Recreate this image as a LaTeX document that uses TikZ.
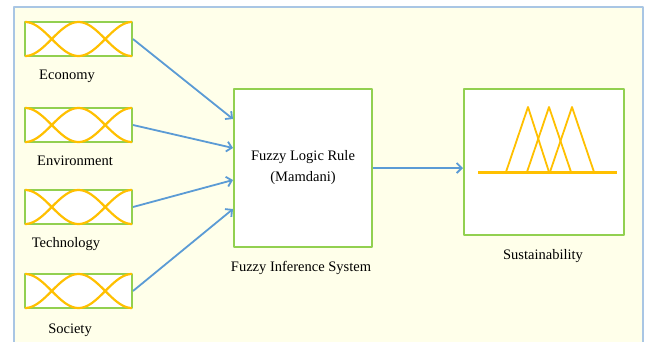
\documentclass[tikz,border=0pt]{standalone}
\usepackage{fontspec}
\setmainfont{Liberation Serif}
\usetikzlibrary{arrows.meta}
\definecolor{panelfill}{HTML}{FFFFEA}
\definecolor{paneldraw}{HTML}{A9C6E4}
\definecolor{boxgreen}{HTML}{92D050}
\definecolor{fuzzyorange}{HTML}{FFC000}
\definecolor{arrowblue}{HTML}{5B9BD5}
\tikzset{>={Straight Barb[length=5pt,width=10pt]}}
\tikzset{inbox/.style={draw=boxgreen, line width=2pt, fill=white,
    minimum width=107pt, minimum height=34pt, inner sep=0pt}}
\tikzset{bigbox/.style={draw=boxgreen, line width=2pt, fill=white,
    inner sep=0pt, align=center}}
\tikzset{memb/.style={fuzzyorange, line width=2.2pt}}
\tikzset{link/.style={->, arrowblue, line width=1.8pt}}
\tikzset{lab/.style={font=\fontsize{14.5}{21}\selectfont, inner sep=0pt}}

% two crossing membership curves inside an input box
\newcommand{\membset}[1]{%
  \begin{scope}[shift={(#1.center)}]
    \draw[memb] plot[domain=-53.5:53.5, samples=60, smooth]
      (\x, {17*cos((\x+53.5)/53.5*180)});
    \draw[memb] plot[domain=-53.5:53.5, samples=60, smooth]
      (\x, {-17*cos((\x+53.5)/53.5*180)});
  \end{scope}}

\begin{document}
\begin{tikzpicture}[x=1pt, y=-1pt, line join=round]
\useasboundingbox (0,0) rectangle (648,341);
\draw[fill=panelfill, draw=paneldraw, line width=1.5pt] (14,7) rectangle (643,350);

% inputs
\node[inbox] (eco) at (78.5,39) {};
\node[inbox] (env) at (78.5,125) {};
\node[inbox] (tech) at (78.5,207) {};
\node[inbox] (soc) at (78.5,291) {};
\membset{eco}
\membset{env}
\membset{tech}
\membset{soc}
\node[lab] (ecolab) at (67,76) {Economy};
\node[lab] (envlab) at (75,161) {Environment};
\node[lab] (techlab) at (66,244) {Technology};
\node[lab] (soclab) at (70,330) {Society};

% inference block
\node[bigbox, minimum width=138pt, minimum height=158pt, lab] (fis) at (303,168)
  {Fuzzy Logic Rule\\(Mamdani)};
\node[lab] (fislab) at (301,268) {Fuzzy Inference System};

% output
\node[bigbox, minimum width=160pt, minimum height=146pt] (sus) at (544,162) {};
\node[lab] (suslab) at (543,256) {Sustainability};
\draw[fuzzyorange, line width=1.8pt] (506,172) -- (528,107) -- (549,172);
\draw[fuzzyorange, line width=1.8pt] (527,172) -- (549,107) -- (571,172);
\draw[fuzzyorange, line width=1.8pt] (550,172) -- (572,107) -- (594,172);
\draw[fuzzyorange, line width=3pt] (478,172) -- (617,172);

% connectors
\draw[link] (eco.east) -- ([yshift=49pt]fis.west);
\draw[link] (env.east) -- ([yshift=20pt]fis.west);
\draw[link] (tech.east) -- ([yshift=-12pt]fis.west);
\draw[link] (soc.east) -- ([yshift=-41pt]fis.west);
\draw[link] (fis.east) -- (fis.east -| sus.west);

\end{tikzpicture}
\end{document}
